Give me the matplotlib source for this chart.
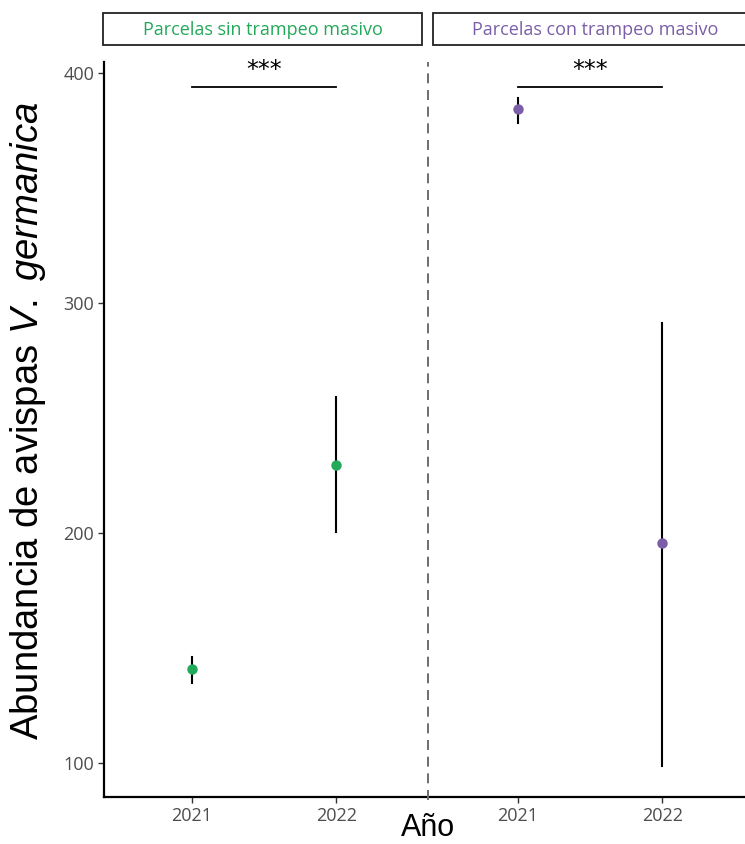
import matplotlib
matplotlib.use("Agg")
import matplotlib.pyplot as plt
from matplotlib.patches import Rectangle
from matplotlib.lines import Line2D

plt.rcParams['mathtext.fontset'] = 'custom'
plt.rcParams['mathtext.rm'] = 'Liberation Sans'
plt.rcParams['mathtext.it'] = 'Liberation Sans:italic'

years = ["2021", "2022"]
panels = ["Parcelas sin trampeo masivo", "Parcelas con trampeo masivo"]
colors = ["#22a95a", "#7b5ea7"]
means = [[140.7, 229.4], [384.6, 195.4]]
lower = [[134.5, 200.5], [378.5, 98.5]]
upper = [[146.0, 259.0], [389.5, 291.5]]
signif = ["***", "***"]
sig_y = 394
yticks = [100, 200, 300, 400]

W, H = 745, 844
fig = plt.figure(figsize=(W / 100, H / 100), dpi=100)

ax_left = [104, 430]
ax_w = 322
ax_top, ax_bot = 62, 797

tick_font = dict(family="Open Sans", size=13, color="#4d4d4d")

for i in range(2):
    x0 = ax_left[i]
    ax = fig.add_axes([x0 / W, 1 - ax_bot / H, ax_w / W, (ax_bot - ax_top) / H])
    xs = [1, 2]
    for j in range(2):
        ax.plot([xs[j], xs[j]], [lower[i][j], upper[i][j]], color="black", lw=1.5, zorder=2)
        ax.plot(xs[j], means[i][j], 'o', color=colors[i], ms=7.5, zorder=3, mec='none')
    ax.plot([1, 2], [sig_y, sig_y], color="black", lw=1.3)
    ax.text(1.5, sig_y + 7.5, signif[i], ha="center", va="center", fontsize=17,
            family="DejaVu Sans", clip_on=False)
    ax.set_xlim(0.39, 2.62)
    ax.set_ylim(85, 405)
    ax.set_xticks(xs)
    ax.set_xticklabels(years, **tick_font)
    for s in ["top", "right"]:
        ax.spines[s].set_visible(False)
    ax.spines["bottom"].set_linewidth(1.6)
    ax.spines["left"].set_linewidth(1.6)
    ax.tick_params(axis="both", length=4, width=1, color="#333333", pad=3)
    if i == 0:
        ax.set_yticks(yticks)
        ax.set_yticklabels([str(t) for t in yticks], **tick_font)
    else:
        ax.spines["left"].set_visible(False)
        ax.set_yticks([])
    # strip box
    sx0 = 103 if i == 0 else 433
    sx1 = 422 if i == 0 else 760
    fig.patches.append(Rectangle((sx0 / W, 1 - 45 / H), (sx1 - sx0) / W, 32 / H,
                                 transform=fig.transFigure, facecolor="white",
                                 edgecolor="#222222", lw=1.3))
    cx = (sx0 + (422 if i == 0 else 758)) / 2
    fig.text(cx / W, 1 - 30 / H, panels[i], ha="center", va="center",
             fontsize=13, family="Open Sans", color=colors[i])

# dashed separator
fig.add_artist(Line2D([428 / W, 428 / W], [1 - 800 / H, 1 - 62 / H], transform=fig.transFigure,
                      color="#555555", lw=1.2, ls=(0, (6, 4))))

fig.text(428 / W, 1 - 828 / H, "Año", ha="center", va="center", fontsize=22, family="Liberation Sans")
fig.text(28 / W, 1 - 421 / H, r"Abundancia de avispas $\it{V.\ germanica}$", rotation=90,
         ha="center", va="center", fontsize=27.5, family="Liberation Sans")

fig.savefig("out.png", dpi=100)
